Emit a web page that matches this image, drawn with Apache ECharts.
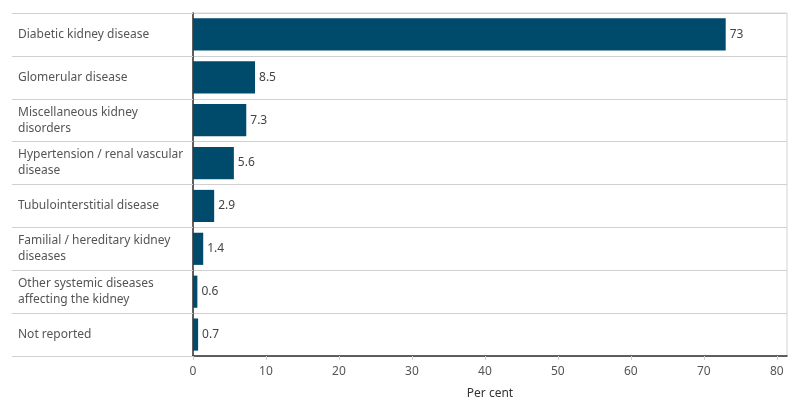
<!DOCTYPE html>
<html><head><meta charset="utf-8">
<script src="https://cdn.jsdelivr.net/npm/echarts@6/dist/echarts.min.js"></script>
<style>html,body{margin:0;padding:0;background:#fff}#c{width:800px;height:420px}</style>
</head><body><div id="c"></div>
<script>
const categories = [
  'Diabetic kidney disease',
  'Glomerular disease',
  'Miscellaneous kidney\ndisorders',
  'Hypertension / renal vascular\ndisease',
  'Tubulointerstitial disease',
  'Familial / hereditary kidney\ndiseases',
  'Other systemic diseases\naffecting the kidney',
  'Not reported'
];
const values = [73, 8.5, 7.3, 5.6, 2.9, 1.4, 0.6, 0.7];
const xTicks = [0, 10, 20, 30, 40, 50, 60, 70, 80];
const axisName = 'Per cent';

const FONT = 'Noto Sans';
const chart = echarts.init(document.getElementById('c'), null, {renderer: 'canvas'});
chart.setOption({
  animation: false,
  textStyle: {fontFamily: FONT},
  grid: {left: 193, right: 13, top: 13, bottom: 64, show: true, borderColor: '#d4d4d4', borderWidth: 1, containLabel: false},
  xAxis: {
    type: 'value', min: 0, max: 81.4, interval: 10,
    name: axisName, nameLocation: 'middle', nameGap: 32,
    nameTextStyle: {color: '#333', fontSize: 12, fontFamily: FONT},
    axisLine: {show: true, lineStyle: {color: '#333', width: 1.5}},
    axisTick: {show: true, length: 4, lineStyle: {color: '#d0d0d0'}},
    splitLine: {show: false},
    axisLabel: {color: '#555', fontSize: 12, fontFamily: FONT, margin: 10,
      showMaxLabel: false,
      formatter: v => xTicks.includes(v) ? String(v) : ''}
  },
  yAxis: {
    type: 'category', data: categories, inverse: true,
    axisLine: {show: true, lineStyle: {color: '#333', width: 1.5}},
    axisTick: {show: true, length: 181, lineStyle: {color: '#d0d0d0'}},
    splitLine: {show: true, lineStyle: {color: '#d0d0d0'}},
    axisLabel: {align: 'left', margin: 175, color: '#555', fontSize: 12, fontFamily: FONT, lineHeight: 16}
  },
  series: [{
    type: 'bar', data: values, barWidth: '75%',
    itemStyle: {color: '#004A6B'},
    label: {show: true, position: 'right', distance: 4, color: '#444', fontSize: 12, fontFamily: FONT}
  }]
});
</script></body></html>
